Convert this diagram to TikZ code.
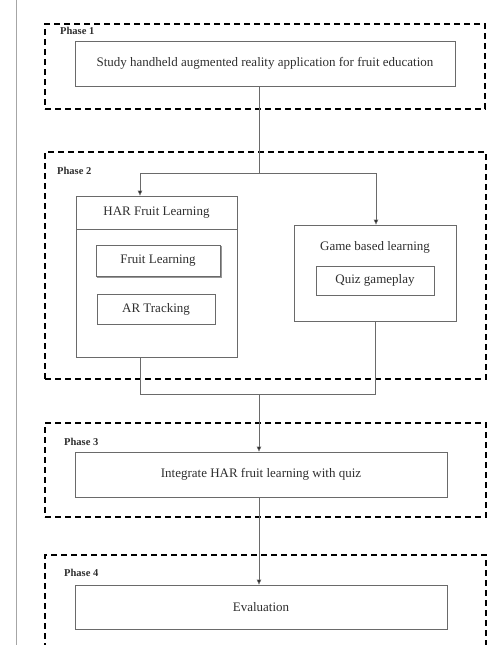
\documentclass[tikz,border=0pt]{standalone}
\usepackage{fontspec}
\setmainfont{Liberation Serif}
\usetikzlibrary{arrows.meta,calc}
\definecolor{linegray}{HTML}{6A6A6A}
\definecolor{txtgray}{HTML}{2E2E2E}
\tikzset{
  phasebox/.style={draw=black, line width=1.8pt, dash pattern=on 6pt off 4pt, inner sep=0pt},
  stepbox/.style={draw=linegray, line width=0.8pt, inner sep=0pt, text=txtgray, font=\fontsize{13}{15}\selectfont, align=center},
  phaselabel/.style={font=\bfseries\fontsize{10.5}{12}\selectfont, text=txtgray, inner sep=0pt, anchor=west},
  conn/.style={draw=linegray, line width=0.8pt},
  arr/.style={conn, -{Triangle[length=5pt,width=4.5pt,fill=black]}},
}
\begin{document}
\begin{tikzpicture}[x=1pt,y=-1pt]
\useasboundingbox (0,0) rectangle (501,645);
\clip (0,0) rectangle (501,645);
% left margin rule
\draw[draw=gray!70, line width=1pt] (16,0) -- (16,645);

% Phase 1
\node[phasebox, minimum width=440pt, minimum height=85pt] (p1) at (265,66.5) {};
\node[phaselabel] (l1) at (60,31) {Phase 1};
\node[stepbox, minimum width=380pt, minimum height=45pt] (study) at (265,63.5) {Study handheld augmented reality application for fruit education};

% Phase 2
\node[phasebox, minimum width=441pt, minimum height=227pt] (p2) at (265.5,265.5) {};
\node[phaselabel] (l2) at (57,171) {Phase 2};
\node[stepbox, minimum width=161pt, minimum height=161pt] (har) at (156.5,276.5) {};
\coordinate (hdivl) at (76,229);
\coordinate (hdivr) at (237,229);
\draw[conn] (hdivl) -- (hdivr);
\node[text=txtgray, font=\fontsize{13}{15}\selectfont, inner sep=0pt] (hartitle) at (156.5,213) {HAR Fruit Learning};
\node[stepbox, minimum width=124pt, minimum height=31pt] (fruit) at (158,260.5) {Fruit Learning};
\draw[draw=linegray!70, line width=0.6pt] ([xshift=1pt,yshift=-1.2pt]fruit.south west) -- ([xshift=1.2pt,yshift=-1.2pt]fruit.south east) -- ([xshift=1.2pt,yshift=-1pt]fruit.north east);
\node[stepbox, minimum width=118pt, minimum height=30pt] (ar) at (156,309) {AR Tracking};
\node[stepbox, minimum width=162pt, minimum height=96pt] (game) at (375,273) {};
\node[text=txtgray, font=\fontsize{13}{15}\selectfont, inner sep=0pt] (gametitle) at (375,247) {Game based learning};
\node[stepbox, minimum width=118pt, minimum height=29pt] (quiz) at (375,280.5) {Quiz gameplay};

% Phase 3
\node[phasebox, minimum width=441pt, minimum height=94pt] (p3) at (265.5,470) {};
\node[phaselabel] (l3) at (64,442) {Phase 3};
\node[stepbox, minimum width=372pt, minimum height=45pt] (integ) at (261,474.5) {Integrate HAR fruit learning with quiz};

% Phase 4
\node[phasebox, minimum width=441pt, minimum height=130pt] (p4) at (265.5,620) {};
\node[phaselabel] (l4) at (64,573) {Phase 4};
\node[stepbox, minimum width=372pt, minimum height=44pt] (eval) at (261,607) {Evaluation};

% connectors
\coordinate (j1) at (259,173);
\coordinate (hx) at (140,0);
\coordinate (gx) at (376,0);
\coordinate (j2) at (259,394);
\coordinate (b1) at (140,394);
\coordinate (b2) at (375,394);
\draw[conn] (study.south -| j1) -- (j1);
\draw[arr] (j1) -| (har.north -| hx);
\draw[arr] (j1) -| (game.north -| gx);
\draw[conn] (har.south -| hx) -- (b1) -- (b2) -- (game.south -| b2);
\draw[arr] (j2) -- (integ.north -| j2);
\draw[arr] (integ.south -| j2) -- (eval.north -| j2);
\end{tikzpicture}
\end{document}
